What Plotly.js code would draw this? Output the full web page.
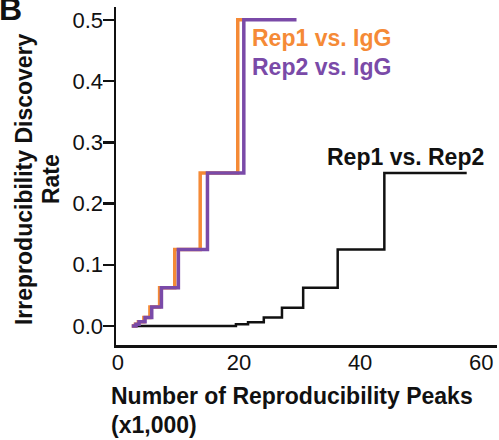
<!DOCTYPE html>
<html>
<head>
<meta charset="utf-8">
<script src="https://cdn.plot.ly/plotly-3.0.1.min.js"></script>
<style>html,body{margin:0;padding:0;background:#fff;}#chart{width:499px;height:440px;}</style>
</head>
<body>
<div id="chart"></div>
<script>
// Step positions (x1,000 peaks) and IDR levels
const rep1IgG_x = [2.3, 2.9, 3.4, 4.3, 5.3, 6.9, 9.4, 13.6, 19.8, 21.0];
const rep1IgG_y = [0, 0.003, 0.007, 0.014, 0.031, 0.0625, 0.125, 0.25, 0.5, 0.5];
const rep2IgG_x = [2.3, 3.0, 3.5, 4.5, 5.6, 7.2, 10.0, 14.8, 20.8, 29.5];
const rep2IgG_y = [0, 0.003, 0.007, 0.014, 0.031, 0.0625, 0.125, 0.25, 0.5, 0.5];
const rep1Rep2_x = [2.5, 19.5, 21.5, 24.1, 27.1, 30.6, 36.3, 44.0, 57.6];
const rep1Rep2_y = [0, 0.003, 0.006, 0.014, 0.03, 0.0625, 0.125, 0.25, 0.25];
const seriesNames = ["Rep1 vs. IgG", "Rep2 vs. IgG", "Rep1 vs. Rep2"];
const yTicks = [0, 0.1, 0.2, 0.3, 0.4, 0.5];
const yTickText = ["0.0", "0.1", "0.2", "0.3", "0.4", "0.5"];
const xTicks = [0, 20, 40, 60];
const xTitleLines = ["Number of Reproducibility Peaks", "(x1,000)"];
const yTitleLines = ["Irreproducibility Discovery", "Rate"];
const panelLabel = "B";

const ORANGE = "#F58A36", PURPLE = "#7A4AA8", BLACK = "#111111";
const FONT = "Liberation Sans, Arial, sans-serif";

const traces = [
  {x: rep1Rep2_x, y: rep1Rep2_y, mode: "lines", line: {shape: "hv", color: BLACK, width: 2.5}, name: seriesNames[2]},
  {x: rep1IgG_x, y: rep1IgG_y, mode: "lines", line: {shape: "hv", color: ORANGE, width: 3.5}, name: seriesNames[0]},
  {x: rep2IgG_x, y: rep2IgG_y, mode: "lines", line: {shape: "hv", color: PURPLE, width: 3.5}, name: seriesNames[1]}
];

function ann(text, x, y, opts) {
  return Object.assign({text: text, x: x, y: y, xref: "paper", yref: "paper", showarrow: false,
    font: {size: 23, color: "#111", family: FONT}}, opts);
}

const layout = {
  width: 499, height: 440,
  margin: {l: 116, r: 2, t: 7, b: 95},
  paper_bgcolor: "#fff", plot_bgcolor: "#fff",
  showlegend: false,
  font: {family: FONT, color: "#111", size: 22},
  xaxis: {
    range: [-0.3, 62.6], tickvals: xTicks, ticks: "", showgrid: false, zeroline: false,
    showline: true, linecolor: "#111", linewidth: 2.5, tickfont: {size: 22, family: FONT},
    ticklabelstandoff: -4
  },
  yaxis: {
    range: [-0.031, 0.521], tickvals: yTicks, ticktext: yTickText, ticks: "outside", ticklen: 11,
    tickwidth: 2.5, tickcolor: "#111", showgrid: false, zeroline: false,
    showline: true, linecolor: "#111", linewidth: 2.5, tickfont: {size: 22, family: FONT},
    ticklabelstandoff: -5
  },
  annotations: [
    {text: "<b>" + seriesNames[0] + "</b>", x: 21.8, y: 0.47, xref: "x", yref: "y", xanchor: "left", yanchor: "middle", showarrow: false, font: {size: 23, color: ORANGE, family: FONT}},
    {text: "<b>" + seriesNames[1] + "</b>", x: 21.8, y: 0.423, xref: "x", yref: "y", xanchor: "left", yanchor: "middle", showarrow: false, font: {size: 23, color: PURPLE, family: FONT}},
    {text: "<b>" + seriesNames[2] + "</b>", x: 34.2, y: 0.276, xref: "x", yref: "y", xanchor: "left", yanchor: "middle", showarrow: false, font: {size: 23, color: BLACK, family: FONT}},
    ann("<b>" + xTitleLines[0] + "</b>", -0.018, -0.152, {xanchor: "left", yanchor: "middle"}),
    ann("<b>" + xTitleLines[1] + "</b>", -0.018, -0.238, {xanchor: "left", yanchor: "middle"}),
    ann("<b>" + yTitleLines[0] + "</b>", -0.2415, 0.491, {xanchor: "center", yanchor: "middle", textangle: -90}),
    ann("<b>" + yTitleLines[1] + "</b>", -0.1706, 0.491, {xanchor: "center", yanchor: "middle", textangle: -90}),
    ann("<b>" + panelLabel + "</b>", -0.312, 0.994, {xanchor: "left", yanchor: "middle", font: {size: 32, color: "#111", family: FONT}})
  ]
};

Plotly.newPlot("chart", traces, layout, {displayModeBar: false, staticPlot: true});
</script>
</body>
</html>
